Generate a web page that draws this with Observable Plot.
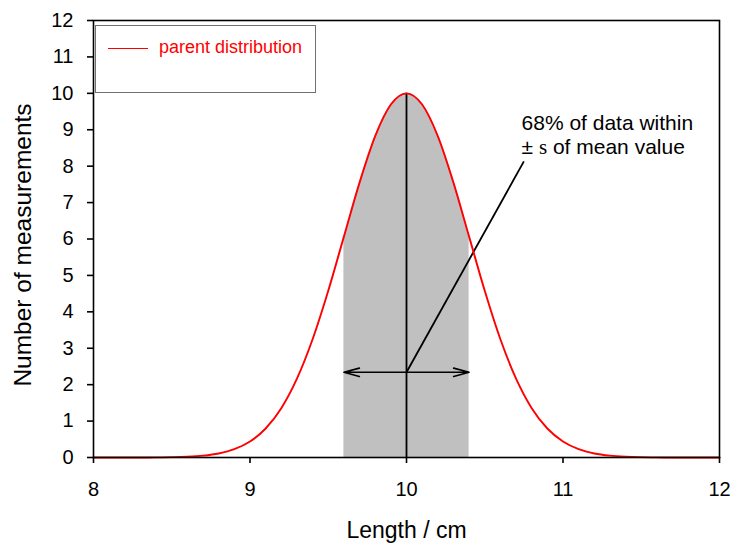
<!DOCTYPE html>
<html>
<head>
<meta charset="utf-8">
<script src="https://cdn.jsdelivr.net/npm/d3@7"></script>
<script src="https://cdn.jsdelivr.net/npm/@observablehq/plot@0.6"></script>
<style>
  html, body { margin: 0; padding: 0; background: #fff; }
  #wrap { position: relative; width: 733px; height: 545px; font-family: "Liberation Sans", Arial, sans-serif; }
  #legend { position: absolute; left: 95px; top: 25px; width: 219px; height: 66px; border: 1.5px solid #707070; background: #fff; }
  #legend .swatch { position: absolute; left: 12px; top: 22px; width: 40px; height: 0; border-top: 1.8px solid #ff0000; }
  #legend .lbl { position: absolute; left: 63px; top: 9px; font-size: 18px; color: #ff0000; line-height: 24px; white-space: nowrap; }
</style>
</head>
<body>
<div id="wrap"></div>
<script>
const lengths = [8.0,8.1,8.2,8.3,8.4,8.5,8.6,8.7,8.8,8.9,9.0,9.1,9.2,9.3,9.4,9.5,9.6,9.7,9.8,9.9,10.0,
                 10.1,10.2,10.3,10.4,10.5,10.6,10.7,10.8,10.9,11.0,11.1,11.2,11.3,11.4,11.5,11.6,11.7,11.8,11.9,12.0];
const counts  = [0,0,0,0.001,0.003,0.009,0.022,0.051,0.111,0.228,0.439,0.796,1.353,2.163,3.246,4.578,6.065,7.548,8.825,9.692,10.0,
                 9.692,8.825,7.548,6.065,4.578,3.246,2.163,1.353,0.796,0.439,0.228,0.111,0.051,0.022,0.009,0.003,0.001,0,0,0];
const xTicks = [8, 9, 10, 11, 12];
const yTicks = [0,1,2,3,4,5,6,7,8,9,10,11,12];
const meanValue = 10;
const sigmaRange = [9.6, 10.4];
const arrowLevel = [2.34];
const leaderStart = [10, 2.34];
const leaderEnd = [10.75, 8.13];
const notePosition = [10.735, 8.88];
const noteLines = ["68% of data within", "± s of mean value"];
const xLabel = ["Length / cm"];
const yLabel = ["Number of measurements"];
const legendLabel = "parent distribution";

const curve = lengths.map((x, i) => ({x, y: counts[i]}));
const shaded = curve.filter(d => d.x >= sigmaRange[0] - 1e-9 && d.x <= sigmaRange[1] + 1e-9);
const peak = curve.find(d => Math.abs(d.x - meanValue) < 1e-9).y;
const arrows = [
  {x1: meanValue, x2: sigmaRange[0], y: arrowLevel[0]},
  {x1: meanValue, x2: sigmaRange[1], y: arrowLevel[0]}
];
const leader = [{x1: leaderStart[0], y1: leaderStart[1], x2: leaderEnd[0], y2: leaderEnd[1]}];
const note = [{x: notePosition[0], y: notePosition[1], text: noteLines.join("\n")}];

const chart = Plot.plot({
  width: 733,
  height: 545,
  marginLeft: 93,
  marginRight: 14,
  marginTop: 20,
  marginBottom: 88,
  style: {fontFamily: "Liberation Sans, Arial, sans-serif", color: "#000", background: "#fff"},
  x: {domain: [8, 12]},
  y: {domain: [0, 12]},
  marks: [
    Plot.areaY(shaded, {x: "x", y: "y", fill: "#c0c0c0", curve: "monotone-x"}),
    Plot.ruleX([meanValue], {y1: 0, y2: peak, stroke: "#000", strokeWidth: 1.8}),
    Plot.arrow(arrows, {x1: "x1", x2: "x2", y1: "y", y2: "y", stroke: "#000", strokeWidth: 1.6, headAngle: 30, headLength: 15}),
    Plot.link(leader, {x1: "x1", y1: "y1", x2: "x2", y2: "y2", stroke: "#000", strokeWidth: 1.8}),
    Plot.line(curve, {x: "x", y: "y", stroke: "#ff0000", strokeWidth: 1.9, curve: "monotone-x"}),
    Plot.frame({stroke: "#000", strokeWidth: 1.6}),
    Plot.axisX({ticks: xTicks, tickSize: 6, tickPadding: 18, fontSize: 20, label: null, tickFormat: d => String(d), strokeWidth: 1.6}),
    Plot.axisY({ticks: yTicks, tickSize: 6, tickPadding: 14, fontSize: 20, label: null, tickFormat: d => String(d), strokeWidth: 1.6}),
    Plot.text(note, {x: "x", y: "y", text: "text", textAnchor: "start", lineAnchor: "middle", lineHeight: 1.17, fontSize: 21, fill: "#000"}),
    Plot.text(xLabel, {frameAnchor: "bottom", textAnchor: "middle", dy: 73, fontSize: 23, fill: "#000", lineAnchor: "middle"}),
    Plot.text(yLabel, {frameAnchor: "left", textAnchor: "middle", dx: -70, dy: 6, rotate: -90, fontSize: 24.5, fill: "#000", lineAnchor: "middle"})
  ]
});

// Serif "s" (sigma rendered as s) in the note's second line
chart.querySelectorAll("tspan").forEach(t => {
  if (t.textContent === noteLines[1]) {
    const ns = "http://www.w3.org/2000/svg";
    t.textContent = "± ";
    const s = document.createElementNS(ns, "tspan");
    s.setAttribute("font-family", "Liberation Serif, Times New Roman, serif");
    s.textContent = "s";
    const rest = document.createElementNS(ns, "tspan");
    rest.textContent = " of mean value";
    t.appendChild(s);
    t.appendChild(rest);
  }
});

const wrap = document.getElementById("wrap");
wrap.appendChild(chart);
const legend = document.createElement("div");
legend.id = "legend";
legend.innerHTML = '<div class="swatch"></div><div class="lbl"></div>';
legend.querySelector(".lbl").textContent = legendLabel;
wrap.appendChild(legend);
</script>
</body>
</html>
